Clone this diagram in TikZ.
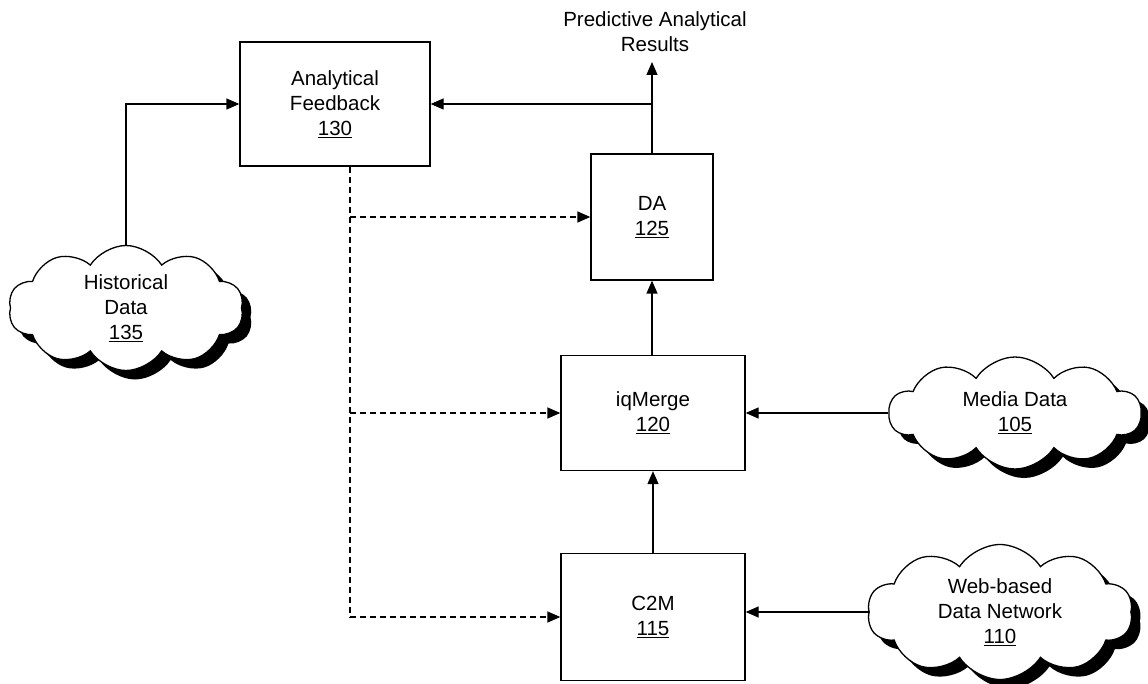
\documentclass[tikz,border=0pt]{standalone}
\usepackage{fontspec}
\setmainfont{Liberation Sans}
\usetikzlibrary{shapes.symbols,shadows,arrows.meta}

\begin{document}
\begin{tikzpicture}[x=1pt,y=-1pt,
  font=\fontsize{20.5}{25}\selectfont,
  line width=1.3pt,
  block/.style={draw, fill=white, align=center, inner sep=0pt},
  datacloud/.style={cloud, draw, fill=white, align=center, inner sep=0pt,
    cloud puffs=10, cloud puff arc=115, aspect=2,
    drop shadow={shadow xshift=9pt, shadow yshift=-9pt, fill=black, opacity=1}},
  flow/.style={-{Triangle[length=13pt,width=11pt]}},
  feed/.style={flow, dashed, dash pattern=on 6pt off 4pt}]
\useasboundingbox (0,0) rectangle (1148,684);

% processing blocks
\node[block, minimum width=190pt, minimum height=124pt] (af) at (335,104)
  {Analytical\\Feedback\\\underline{130}};
\node[block, minimum width=122pt, minimum height=126pt] (da) at (652,217)
  {DA\\\underline{125}};
\node[block, minimum width=184pt, minimum height=115pt] (iq) at (653,413)
  {iqMerge\\\underline{120}};
\node[block, minimum width=184pt, minimum height=127pt] (cm) at (653,617)
  {C2M\\\underline{115}};

% data sources
\node[datacloud, minimum width=235pt, minimum height=125pt] (hist) at (126,308)
  {Historical\\Data\\\underline{135}};
\node[datacloud, minimum width=252pt, minimum height=112pt] (media) at (1015,413)
  {Media Data\\\underline{105}};
\node[datacloud, minimum width=265pt, minimum height=135pt] (web) at (1000,612)
  {Web-based\\Data Network\\\underline{110}};

% output label
\node[align=center] (pred) at (655,32) {Predictive Analytical\\Results};
\coordinate (top) at (652,62);

% main flow
\draw[flow] (cm.north) -- (iq.south);
\draw[flow] (iq.north) -- (da.north |- iq.north) -- (da.south);
\draw[flow] (da.north) -- (top);
\draw[flow] (da.north |- af.east) -- (af.east);
\draw[flow] (hist.north) |- (af.west);
\draw[flow] (media.west) -- (media.west -| iq.east);
\draw[flow] (web.west) -- (web.west -| cm.east);

% feedback paths
\coordinate (fb) at (350,0);
\draw[dashed, dash pattern=on 6pt off 4pt] (af.south -| fb) -- (cm.west -| fb);
\draw[feed] (da.west -| fb) -- (da.west);
\draw[feed] (iq.west -| fb) -- (iq.west);
\draw[feed] (cm.west -| fb) -- (cm.west);
\end{tikzpicture}
\end{document}
